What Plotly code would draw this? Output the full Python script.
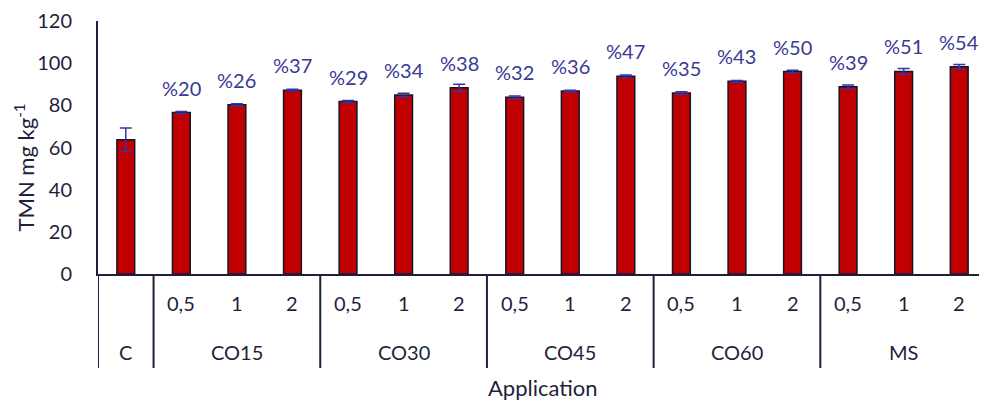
import plotly.graph_objects as go

# grupos e doses
grupos = ["C", "CO15", "CO30", "CO45", "CO60", "MS"]
doses = ["", "0,5", "1", "2", "0,5", "1", "2", "0,5", "1", "2",
         "0,5", "1", "2", "0,5", "1", "2"]

# valores de TMN (mg kg-1) e erro padrao
tmn = [63.7, 76.6, 80.3, 87.2, 81.8, 84.9, 88.3, 83.8, 86.8, 93.8,
       85.8, 91.4, 96.0, 88.8, 96.1, 98.3]
erro = [5.5, 0.5, 0.5, 0.4, 0.5, 0.8, 1.7, 0.6, 0.4, 0.6,
        0.6, 0.4, 0.6, 0.9, 1.4, 1.1]

# rotulos de aumento em relacao ao controle
rotulos = ["", "%20", "%26", "%37", "%29", "%34", "%38", "%32", "%36", "%47",
           "%35", "%43", "%50", "%39", "%51", "%54"]

cor_texto = "#1f1f3d"
cor_rotulo = "#3a3a96"
fonte = "Lato, Open Sans, sans-serif"
tam = 20

pos = list(range(len(tmn)))
# centro de cada grupo e limites entre grupos
centros = [0, 2, 5, 8, 11, 14]
limites = [-0.5, 0.5, 3.5, 6.5, 9.5, 12.5]

fig = go.Figure()
fig.add_trace(go.Bar(
    x=pos,
    y=tmn,
    marker=dict(color="#c00000", line=dict(color="#14142a", width=1.5)),
    error_y=dict(type="data", array=erro, color="#3535a8", thickness=1.5, width=6),
))

# rotulos de porcentagem
for p, v, r in zip(pos, tmn, rotulos):
    if r:
        fig.add_annotation(x=p, y=v, text=r, showarrow=False, yanchor="middle", yshift=25,
                           font=dict(size=tam, color=cor_rotulo))

# doses (primeira linha do eixo x)
for p, d in zip(pos, doses):
    if d:
        fig.add_annotation(x=p, y=0, yref="paper", text=d, showarrow=False,
                           yanchor="middle", yshift=-29, font=dict(size=tam, color=cor_texto))

# grupos (segunda linha do eixo x)
for c, g in zip(centros, grupos):
    fig.add_annotation(x=c, y=0, yref="paper", text=g, showarrow=False,
                       yanchor="middle", yshift=-78, font=dict(size=tam, color=cor_texto))

# divisorias
for lim in limites:
    fig.add_shape(type="line", xref="x", yref="paper", x0=lim, x1=lim,
                  ysizemode="pixel", yanchor=0, y0=0, y1=-94,
                  line=dict(color=cor_texto, width=2))

# titulos dos eixos
fig.add_annotation(x=0.5, xref="paper", y=0, yref="paper", text="Application",
                   showarrow=False, yanchor="middle", yshift=-113,
                   font=dict(size=22, color=cor_texto))
fig.add_annotation(x=0, xref="paper", y=0.5, yref="paper", text="TMN mg kg<sup>-1</sup>",
                   showarrow=False, textangle=-90, xanchor="center", yanchor="middle",
                   xshift=-74, yshift=-20, font=dict(size=22, color=cor_texto))

fig.update_layout(
    width=979, height=399,
    margin=dict(l=90, r=0, t=6, b=133),
    paper_bgcolor="white", plot_bgcolor="white",
    font=dict(family=fonte, size=tam, color=cor_texto),
    bargap=0.68,
    showlegend=False,
)
fig.update_xaxes(
    range=[-0.5, 15.5], showticklabels=False, ticks="",
    showline=True, linecolor=cor_texto, linewidth=2,
    showgrid=False, zeroline=False,
)
fig.update_yaxes(
    range=[0, 120], dtick=20,
    showline=True, linecolor=cor_texto, linewidth=2,
    showgrid=False, zeroline=False,
    ticks="", ticklabelstandoff=20, ticklabeloverflow="allow",
    tickfont=dict(size=tam),
)

fig.write_html("out.html")
